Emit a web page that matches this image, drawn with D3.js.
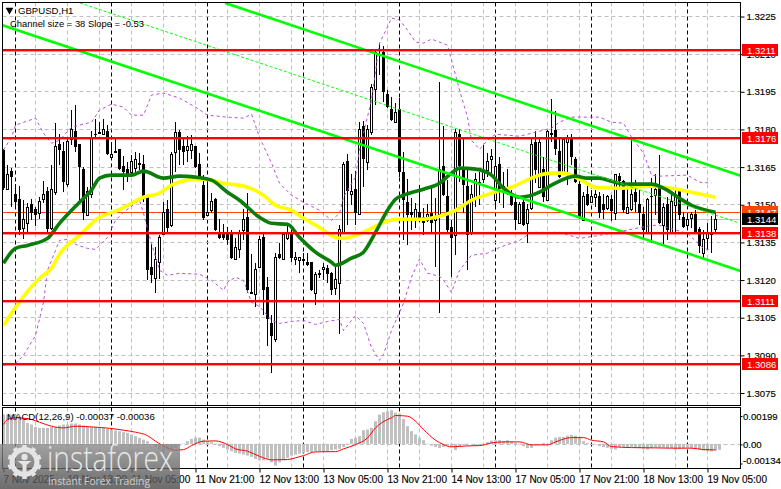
<!DOCTYPE html>
<html><head><meta charset="utf-8">
<style>html,body{margin:0;padding:0;background:#fff}svg{display:block}text{font-family:"Liberation Sans",Arial,sans-serif}</style>
<script src="https://cdn.jsdelivr.net/npm/d3@7/dist/d3.min.js"></script>
</head><body><div id="chart"></div>
<script>
const opens=[1.31716,1.31560,1.31632,1.31540,1.31520,1.31404,1.31424,1.31500,1.31480,1.31464,
1.31520,1.31552,1.31404,1.31548,1.31739,1.31712,1.31580,1.31759,1.31791,1.31739,
1.31640,1.31456,1.31540,1.31779,1.31787,1.31779,1.31791,1.31688,1.31712,1.31719,
1.31652,1.31640,1.31628,1.31644,1.31664,1.31660,1.31532,1.31249,1.31205,1.31269,
1.31380,1.31480,1.31416,1.31708,1.31787,1.31731,1.31716,1.31716,1.31731,1.31660,
1.31576,1.31456,1.31476,1.31520,1.31384,1.31384,1.31384,1.31384,1.31281,1.31320,
1.31396,1.31448,1.31149,1.31141,1.31249,1.31368,1.31169,1.31025,1.30965,1.31301,
1.31281,1.31364,1.31384,1.31281,1.31277,1.31281,1.31269,1.31269,1.31145,1.31225,
1.31241,1.31245,1.31225,1.31165,1.31185,1.31384,1.31672,1.31540,1.31560,1.31460,
1.31811,1.31668,1.31787,1.31959,1.32116,1.32107,1.31939,1.31879,1.31827,1.31879,
1.31628,1.31508,1.31468,1.31436,1.31468,1.31448,1.31436,1.31464,1.31436,1.31460,
1.31652,1.31532,1.31408,1.31376,1.31779,1.31648,1.31572,1.31384,1.31528,1.31588,
1.31600,1.31636,1.31680,1.31516,1.31660,1.31572,1.31556,1.31532,1.31508,1.31424,
1.31508,1.31424,1.31484,1.31747,1.31568,1.31640,1.31516,1.31783,1.31795,1.31712,
1.31620,1.31747,1.31763,1.31680,1.31580,1.31436,1.31540,1.31508,1.31528,1.31532,
1.31500,1.31484,1.31520,1.31464,1.31612,1.31592,1.31464,1.31480,1.31548,1.31500,
1.31460,1.31384,1.31532,1.31536,1.31568,1.31416,1.31500,1.31384,1.31496,1.31552,
1.31448,1.31416,1.31444,1.31460,1.31400,1.31305,1.31364,1.31380,1.31400];
const highs=[1.31719,1.31656,1.31644,1.31580,1.31572,1.31516,1.31504,1.31520,1.31488,1.31528,
1.31592,1.31568,1.31656,1.31823,1.31779,1.31747,1.31759,1.31875,1.31895,1.31741,
1.31648,1.31568,1.31791,1.31839,1.31827,1.31839,1.31815,1.31747,1.31759,1.31721,
1.31692,1.31668,1.31696,1.31708,1.31704,1.31696,1.31536,1.31340,1.31328,1.31376,
1.31508,1.31516,1.31708,1.31827,1.31795,1.31767,1.31771,1.31775,1.31733,1.31704,
1.31616,1.31604,1.31544,1.31524,1.31440,1.31420,1.31408,1.31396,1.31364,1.31396,
1.31480,1.31544,1.31301,1.31265,1.31372,1.31384,1.31209,1.31057,1.31305,1.31344,
1.31388,1.31424,1.31396,1.31309,1.31291,1.31305,1.31305,1.31271,1.31229,1.31237,
1.31265,1.31257,1.31229,1.31249,1.31416,1.31668,1.31700,1.31620,1.31632,1.31827,
1.31831,1.31815,1.31979,1.32118,1.32142,1.32130,1.31955,1.31927,1.31903,1.31923,
1.31708,1.31600,1.31524,1.31504,1.31576,1.31484,1.31500,1.31568,1.31524,1.31987,
1.31811,1.31596,1.31436,1.31799,1.31799,1.31767,1.31648,1.31576,1.31624,1.31628,
1.31735,1.31704,1.31719,1.31771,1.31688,1.31628,1.31640,1.31556,1.31532,1.31508,
1.31528,1.31500,1.31759,1.31791,1.31763,1.31688,1.31795,1.31919,1.31871,1.31759,
1.31761,1.31775,1.31779,1.31688,1.31600,1.31548,1.31580,1.31556,1.31556,1.31548,
1.31540,1.31536,1.31536,1.31622,1.31624,1.31596,1.31584,1.31763,1.31596,1.31556,
1.31488,1.31524,1.31604,1.31620,1.31696,1.31504,1.31528,1.31544,1.31564,1.31560,
1.31468,1.31464,1.31468,1.31476,1.31408,1.31396,1.31424,1.31452,1.31464];
const lows=[1.31556,1.31556,1.31488,1.31488,1.31376,1.31360,1.31384,1.31436,1.31412,1.31440,
1.31504,1.31384,1.31396,1.31536,1.31656,1.31548,1.31568,1.31735,1.31708,1.31516,
1.31436,1.31452,1.31524,1.31759,1.31779,1.31777,1.31696,1.31686,1.31708,1.31636,
1.31556,1.31588,1.31620,1.31628,1.31636,1.31508,1.31197,1.31185,1.31145,1.31201,
1.31376,1.31380,1.31408,1.31628,1.31656,1.31656,1.31668,1.31680,1.31646,1.31594,
1.31436,1.31454,1.31464,1.31394,1.31360,1.31356,1.31336,1.31281,1.31279,1.31285,
1.31356,1.31145,1.31145,1.31089,1.31245,1.31057,1.30937,1.30826,1.30953,1.31283,
1.31277,1.31356,1.31269,1.31257,1.31225,1.31257,1.31255,1.31155,1.31097,1.31205,
1.31197,1.31185,1.31137,1.31137,1.30985,1.31382,1.31416,1.31496,1.31416,1.31456,
1.31568,1.31636,1.31775,1.31895,1.32015,1.31907,1.31885,1.31831,1.31825,1.31608,
1.31356,1.31336,1.31396,1.31404,1.31428,1.31376,1.31428,1.31384,1.31249,1.31065,
1.31534,1.31388,1.31209,1.31297,1.31588,1.31464,1.31237,1.31376,1.31488,1.31496,
1.31584,1.31608,1.31624,1.31484,1.31504,1.31484,1.31538,1.31494,1.31396,1.31422,
1.31414,1.31344,1.31476,1.31584,1.31564,1.31508,1.31514,1.31747,1.31696,1.31606,
1.31616,1.31576,1.31656,1.31584,1.31442,1.31434,1.31494,1.31504,1.31488,1.31444,
1.31440,1.31476,1.31432,1.31436,1.31568,1.31464,1.31462,1.31472,1.31468,1.31416,
1.31356,1.31382,1.31344,1.31456,1.31422,1.31336,1.31356,1.31382,1.31388,1.31436,
1.31406,1.31408,1.31404,1.31382,1.31305,1.31281,1.31316,1.31305,1.31380];
const closes=[1.31564,1.31620,1.31608,1.31508,1.31396,1.31440,1.31488,1.31464,1.31456,1.31512,
1.31540,1.31400,1.31560,1.31731,1.31716,1.31588,1.31751,1.31799,1.31727,1.31648,
1.31464,1.31552,1.31767,1.31777,1.31787,1.31799,1.31700,1.31700,1.31712,1.31640,
1.31628,1.31616,1.31672,1.31680,1.31664,1.31520,1.31237,1.31217,1.31281,1.31368,
1.31468,1.31404,1.31700,1.31787,1.31716,1.31708,1.31731,1.31739,1.31648,1.31596,
1.31444,1.31468,1.31512,1.31396,1.31364,1.31364,1.31356,1.31285,1.31328,1.31388,
1.31440,1.31157,1.31149,1.31241,1.31360,1.31157,1.31041,1.30977,1.31289,1.31285,
1.31380,1.31384,1.31285,1.31289,1.31289,1.31281,1.31257,1.31157,1.31221,1.31225,
1.31249,1.31221,1.31157,1.31201,1.31400,1.31660,1.31552,1.31552,1.31464,1.31799,
1.31680,1.31799,1.31967,1.32107,1.32110,1.31947,1.31887,1.31835,1.31867,1.31628,
1.31516,1.31456,1.31456,1.31480,1.31436,1.31424,1.31460,1.31424,1.31448,1.31640,
1.31536,1.31396,1.31364,1.31787,1.31652,1.31576,1.31376,1.31540,1.31600,1.31588,
1.31632,1.31672,1.31692,1.31652,1.31552,1.31548,1.31540,1.31496,1.31436,1.31500,
1.31416,1.31480,1.31739,1.31636,1.31747,1.31528,1.31791,1.31783,1.31719,1.31608,
1.31759,1.31767,1.31688,1.31588,1.31444,1.31532,1.31496,1.31532,1.31540,1.31464,
1.31476,1.31532,1.31472,1.31620,1.31592,1.31476,1.31488,1.31540,1.31508,1.31464,
1.31396,1.31520,1.31530,1.31560,1.31424,1.31488,1.31396,1.31512,1.31540,1.31456,
1.31408,1.31440,1.31460,1.31384,1.31332,1.31360,1.31384,1.31388,1.31440];

const fastMaBars=[0,3,6,11,14,19,22,24,27,32,35,40,44,48,52,56,59,64,67,71,74,78,82,83,87,90,93,96,98,100,105,109,112,114,118,122,125,129,134,137,143,146,149,152,155,162,165,169,172,178];
const fastMaValues=[1.31265,1.31324,1.31336,1.31364,1.31424,1.31508,1.31556,1.31604,1.31616,1.31616,1.31632,1.31604,1.31612,1.31608,1.31596,1.31548,1.31516,1.31448,1.31424,1.31420,1.31368,1.31309,1.31269,1.31257,1.31285,1.31309,1.31388,1.31476,1.31520,1.31536,1.31560,1.31584,1.31624,1.31644,1.31640,1.31616,1.31564,1.31528,1.31548,1.31576,1.31612,1.31604,1.31604,1.31592,1.31580,1.31580,1.31564,1.31524,1.31496,1.31468];
const slowMaBars=[0,3,9,12,14,19,24,28,32,35,39,42,46,50,55,61,65,68,72,75,79,83,85,88,92,95,99,104,109,113,117,122,127,134,137,140,144,148,154,162,167,172,178];
const slowMaValues=[1.31017,1.31089,1.31205,1.31245,1.31301,1.31376,1.31448,1.31472,1.31504,1.31528,1.31544,1.31576,1.31596,1.31600,1.31584,1.31568,1.31536,1.31496,1.31476,1.31444,1.31408,1.31368,1.31364,1.31376,1.31404,1.31428,1.31440,1.31440,1.31452,1.31476,1.31516,1.31544,1.31568,1.31616,1.31624,1.31624,1.31600,1.31568,1.31564,1.31572,1.31564,1.31548,1.31528];

const upperBandBars=[0,2,3,8,10,12,14,17,22,24,27,30,32,35,37,40,44,48,51,56,60,62,64,67,69,72,75,79,82,84,85,88,89,92,94,96,97,99,101,103,105,107,111,112,114,116,117,119,121,123,129,132,137,139,142,149,152,155,157,160,162,164,171,174,177];
const upperBandValues=[1.31716,1.31767,1.31815,1.31843,1.31783,1.31743,1.31755,1.31807,1.31827,1.31875,1.31899,1.31887,1.31855,1.31855,1.31935,1.31943,1.31923,1.31887,1.31855,1.31847,1.31843,1.31859,1.31767,1.31664,1.31584,1.31536,1.31508,1.31476,1.31436,1.31464,1.31528,1.31608,1.31716,1.31915,1.32142,1.32206,1.32242,1.32234,1.32194,1.32146,1.32142,1.32158,1.32134,1.32075,1.31955,1.31847,1.31755,1.31719,1.31755,1.31779,1.31771,1.31783,1.31803,1.31827,1.31847,1.31847,1.31827,1.31823,1.31767,1.31704,1.31616,1.31612,1.31616,1.31588,1.31584];
const lowerBandBars=[0,3,5,8,10,11,13,14,16,18,21,23,26,28,30,34,35,37,39,41,44,49,52,55,56,58,60,62,64,67,69,72,75,78,81,84,85,87,88,90,92,94,95,97,100,102,104,106,109,110,112,114,117,121,124,129,132,139,144,149,153,162,164,171,175,177];
const lowerBandValues=[1.30858,1.30866,1.30898,1.30977,1.31109,1.31237,1.31316,1.31356,1.31360,1.31340,1.31324,1.31320,1.31368,1.31436,1.31468,1.31516,1.31464,1.31344,1.31237,1.31217,1.31225,1.31221,1.31197,1.31157,1.31189,1.31209,1.31197,1.31109,1.31093,1.31037,1.31025,1.31033,1.31037,1.31021,1.31033,1.31041,1.30997,1.31037,1.31057,1.31025,1.30929,1.30878,1.30902,1.30997,1.31105,1.31209,1.31281,1.31225,1.31213,1.31197,1.31149,1.31237,1.31297,1.31305,1.31328,1.31356,1.31388,1.31388,1.31364,1.31376,1.31388,1.31416,1.31416,1.31384,1.31324,1.31316];

const channelTopBars=[55.4,184.5];   const channelTopValues=[1.32302,1.31612];
const channelBottomBars=[-0.4,184.5];const channelBottomValues=[1.32214,1.31233];
const channelMidBars=[19.1,183.4];   const channelMidValues=[1.32302,1.31428];

const levelPrices=[1.32114,1.31764,1.31384,1.31114,1.30864];
const levelLabels=["1.3211","1.3176","1.3138","1.3111","1.3086"];
const priceTicks=[1.3225,1.3210,1.3195,1.3180,1.3165,1.3150,1.3135,1.3120,1.3105,1.3090,1.3075];
const bidPrice=1.31468, bidLabel="1.3147";
const lastPrice=1.31440, lastLabel="1.3144";

const timeBars=[0,16,32,48,64,80,96,112,128,144,160,176];
const timeLabels=["7 Nov 2025","10 Nov 13:00","11 Nov 05:00","11 Nov 21:00","12 Nov 13:00","13 Nov 05:00","13 Nov 21:00","14 Nov 13:00","17 Nov 05:00","17 Nov 21:00","18 Nov 13:00","19 Nov 05:00"];

const macdHist=[206,206,206,206,190,171,147,136,119,112,112,112,119,119,129,136,136,143,143,136,129,119,119,119,112,112,105,101,94,89,82,77,66,54,42,30,19,-5,-21,-40,-51,-44,-40,-28,-12,2,19,35,44,44,30,19,12,2,-16,-28,-40,-51,-63,-68,-75,-82,-91,-105,-115,-115,-105,-129,-152,-129,-115,-98,-82,-75,-68,-63,-58,-58,-51,-51,-51,-51,-44,-40,-35,-21,2,35,42,54,96,101,112,159,206,222,229,236,
218,213,175,124,89,66,42,26,2,-12,-21,-28,-21,-12,-21,-44,-16,-7,2,-2,-7,-7,-2,12,23,26,26,21,26,16,7,-5,-16,-30,-28,-9,-5,7,2,26,44,49,49,58,63,58,42,19,7,-7,-5,-16,-23,-28,-35,-40,-21,-21,-21,-21,-26,-30,-35,-40,-30,-26,-26,-26,-30,-30,-40,-35,-30,-28,-30,-30,-40,-47,-51,-54,-47,-42].map(v=>v/1e5);
const macdSignalBars=[0,1,3,7,9,12,15,18,22,27,30,33,36,38,41,43,45,47,50,53,56,58,61,64,67,71,73,75,78,83,85,88,91,93,96,97,98,101,103,105,108,110,112,116,119,122,125,129,132,136,138,142,145,147,150,152,157,163,167,172,175,178];
const macdSignal=[136,171,183,171,152,124,112,124,119,108,96,82,58,19,-28,-44,-40,-12,19,21,-5,-35,-51,-87,-112,-110,-98,-82,-56,-54,-35,-5,42,112,171,183,199,194,159,101,26,-5,-21,-14,-12,7,14,14,-7,-7,14,44,44,26,14,-19,-26,-28,-30,-30,-40,-42].map(v=>v/1e5);
const macdTicks=[0.00199,0,-0.00134];
const macdTickLabels=["0.00199","0.00","-0.00134"];

const W=781,H=489,L=2.5,R=740.5,T=2.5,B=405.5,MT=407.5,MB=468.5;
const svg=d3.select("#chart").append("svg").attr("width",W).attr("height",H).style("background","#fff");
const x=d3.scaleLinear().domain([0,178]).range([3.5,715.5]);
const y=d3.scaleLinear().domain([1.3075,1.3225]).range([392.5,16]);
const my=d3.scaleLinear().domain([-0.00134,0.00199]).range([463,415.5]);
const defs=svg.append("defs");
defs.append("clipPath").attr("id","main").append("rect").attr("x",L).attr("y",T).attr("width",R-L).attr("height",B-T);
defs.append("clipPath").attr("id","sub").append("rect").attr("x",L).attr("y",MT).attr("width",R-L).attr("height",MB-MT);
const wm=defs.append("linearGradient").attr("id","wm").attr("x1",0).attr("y1",0).attr("x2",0).attr("y2",1);
wm.append("stop").attr("offset",0).attr("stop-color","#888").attr("stop-opacity",.78);
wm.append("stop").attr("offset",1).attr("stop-color","#4c4c4c").attr("stop-opacity",.82);

const gridBars=d3.range(8,184,8), sepBars=d3.range(3,184,24);
const grid=svg.append("g");
[[T,B],[MT,MB]].forEach(([a,b])=>{
  grid.selectAll(null).data(gridBars).join("line").attr("x1",d=>x(d)).attr("x2",d=>x(d)).attr("y1",a).attr("y2",b)
    .attr("stroke","#c0c0c0").attr("stroke-dasharray","4 3");
  grid.selectAll(null).data(sepBars).join("line").attr("x1",d=>x(d)).attr("x2",d=>x(d)).attr("y1",a).attr("y2",b)
    .attr("stroke","#000").attr("stroke-dasharray","4 3");
});
grid.selectAll(null).data(priceTicks).join("line").attr("x1",L).attr("x2",R).attr("y1",d=>Math.round(y(d))+.5).attr("y2",d=>Math.round(y(d))+.5)
  .attr("stroke","#c0c0c0").attr("stroke-dasharray","4 3");
grid.append("line").attr("x1",L).attr("x2",R).attr("y1",Math.round(my(0))+.5).attr("y2",Math.round(my(0))+.5)
  .attr("stroke","#c0c0c0").attr("stroke-dasharray","4 3");

const main=svg.append("g").attr("clip-path","url(#main)");
main.append("line").attr("x1",L).attr("x2",R).attr("y1",Math.round(y(lastPrice))+.5).attr("y2",Math.round(y(lastPrice))+.5).attr("stroke","#c0c0c0");
main.append("line").attr("x1",L).attr("x2",R).attr("y1",Math.round(y(bidPrice))+.5).attr("y2",Math.round(y(bidPrice))+.5).attr("stroke","#ff4500");

const idx=d3.range(opens.length);
main.append("g").selectAll("line").data(idx).join("line")
  .attr("x1",i=>x(i)).attr("x2",i=>x(i)).attr("y1",i=>Math.round(y(highs[i]))).attr("y2",i=>Math.round(y(lows[i])))
  .attr("stroke","#000");
main.append("g").selectAll("rect").data(idx).join("rect")
  .each(function(i){
    const top=Math.round(y(Math.max(opens[i],closes[i]))), bot=Math.round(y(Math.min(opens[i],closes[i])));
    const up=closes[i]>=opens[i], s=d3.select(this);
    if(up) s.attr("x",x(i)-1).attr("y",top+.5).attr("width",2).attr("height",Math.max(1,bot-top)).attr("fill","#fff").attr("stroke","#000");
    else s.attr("x",x(i)-1.5).attr("y",top).attr("width",3).attr("height",Math.max(1,bot-top)).attr("fill","#000");
  });

const pathOf=(bars,vals,sc,curve)=>d3.line().x(i=>x(bars[i])).y(i=>sc(vals[i])).curve(curve)(d3.range(bars.length));
main.append("path").attr("d",pathOf(upperBandBars,upperBandValues,y,d3.curveLinear)).attr("fill","none").attr("stroke","#b44fd6").attr("stroke-dasharray","3 3");
main.append("path").attr("d",pathOf(lowerBandBars,lowerBandValues,y,d3.curveLinear)).attr("fill","none").attr("stroke","#b44fd6").attr("stroke-dasharray","3 3");
main.append("path").attr("d",pathOf(slowMaBars,slowMaValues,y,d3.curveMonotoneX)).attr("fill","none").attr("stroke","#ffff00").attr("stroke-width",3.6);
main.append("path").attr("d",pathOf(fastMaBars,fastMaValues,y,d3.curveMonotoneX)).attr("fill","none").attr("stroke","#0b7d0b").attr("stroke-width",3.6);
main.append("path").attr("d",pathOf(channelTopBars,channelTopValues,y,d3.curveLinear)).attr("fill","none").attr("stroke","#00ff00").attr("stroke-width",2.6);
main.append("path").attr("d",pathOf(channelBottomBars,channelBottomValues,y,d3.curveLinear)).attr("fill","none").attr("stroke","#00ff00").attr("stroke-width",2.6);
main.append("path").attr("d",pathOf(channelMidBars,channelMidValues,y,d3.curveLinear)).attr("fill","none").attr("stroke","#00ff00").attr("stroke-dasharray","3 2");
main.selectAll(null).data(levelPrices).join("rect").attr("x",L).attr("width",R-L).attr("y",d=>Math.round(y(d))-1).attr("height",2.4).attr("fill","#ff0000");

const sub=svg.append("g").attr("clip-path","url(#sub)");
sub.append("g").selectAll("rect").data(macdHist).join("rect")
  .attr("x",(d,i)=>x(i)-1.5).attr("width",3)
  .attr("y",d=>Math.min(my(d),my(0))).attr("height",d=>Math.abs(my(d)-my(0))).attr("fill","#c0c0c0");
sub.append("path").attr("d",pathOf(macdSignalBars,macdSignal,my,d3.curveMonotoneX)).attr("fill","none").attr("stroke","#ff0000");

svg.append("rect").attr("x",L).attr("y",T).attr("width",R-L).attr("height",B-T).attr("fill","none").attr("stroke","#000");
svg.append("rect").attr("x",L).attr("y",MT).attr("width",R-L).attr("height",MB-MT).attr("fill","none").attr("stroke","#000");

const fs=9.6;
const styleAxis=(g)=>{g.select(".domain").remove();g.selectAll("line").attr("stroke","#000");g.selectAll("text").attr("fill","#000").attr("stroke","#000").attr("stroke-width",.15).style("font-size",fs+"px").style("font-family",'"Liberation Sans",Arial,sans-serif');};
const axY=d3.axisRight(y).tickValues(priceTicks).tickFormat(d3.format(".4f")).tickSize(4).tickPadding(2);
svg.append("g").attr("transform",`translate(${R},0.5)`).call(axY).call(styleAxis);
const axM=d3.axisRight(my).tickValues(macdTicks).tickFormat((d,i)=>macdTickLabels[i]).tickSize(2).tickPadding(0.5);
const gM=svg.append("g").attr("transform",`translate(${R},0.5)`).call(axM).call(styleAxis);
gM.selectAll("text").attr("dy",(d)=>d<0?"-0.05em":"0.32em");
const axX=d3.axisBottom(x).tickValues(timeBars).tickFormat((d,i)=>timeLabels[i]).tickSize(4).tickPadding(3);
const gX=svg.append("g").attr("transform",`translate(0,${MB})`).call(axX).call(styleAxis);
gX.selectAll("text").attr("text-anchor","start").style("font-size","10px").attr("dx",-0.5);

const tag=(price,label,fill,color)=>{
  const yy=Math.round(y(price));
  svg.append("rect").attr("x",742).attr("y",yy-6).attr("width",36).attr("height",12).attr("fill",fill);
  svg.append("text").attr("x",747).attr("y",yy+3.5).attr("fill",color).style("font-size",fs+"px").text(label);
};
tag(bidPrice,bidLabel,"#ff4500","#fff");
tag(lastPrice,lastLabel,"#000","#fff");
levelPrices.forEach((p,i)=>tag(p,levelLabels[i],"#ff0000","#fff"));

svg.append("path").attr("d",d3.symbol(d3.symbolTriangle,26)()).attr("transform","translate(9.5,10) rotate(180)").attr("fill","#000");
svg.append("text").attr("x",18).attr("y",14).attr("fill","#000").style("font-size","9.6px").text("GBPUSD,H1");
svg.append("text").attr("x",10).attr("y",27).attr("fill","#000").style("font-size","9.4px").text("Channel size = 38 Slope = -0.53");
svg.append("text").attr("x",7).attr("y",420).attr("fill","#000").style("font-size","9.6px").text("MACD(12,26,9) -0.00037 -0.00036");

const w=svg.append("g");
w.append("rect").attr("x",0).attr("y",444).attr("width",180).attr("height",45).attr("fill","url(#wm)");
const cx=24.5,cy=462,white="#e4e4e4";
w.append("circle").attr("cx",cx).attr("cy",cy).attr("r",12.5).attr("fill","none").attr("stroke",white).attr("stroke-width",5);
d3.range(10).forEach(k=>{
  const a=k*Math.PI/5+Math.PI/10;
  w.append("line").attr("x1",cx+13*Math.cos(a)).attr("y1",cy+13*Math.sin(a)).attr("x2",cx+17*Math.cos(a)).attr("y2",cy+17*Math.sin(a))
    .attr("stroke",white).attr("stroke-width",4.5);
});
w.append("circle").attr("cx",cx).attr("cy",cy-5).attr("r",3.2).attr("fill",white);
w.append("path").attr("d",`M${cx-7} ${cy-1}L${cx+7} ${cy-1}L${cx+2} ${cy+3}L${cx+2} ${cy+13}L${cx-2} ${cy+13}L${cx-2} ${cy+3}Z`).attr("fill",white);
w.append("text").attr("x",47).attr("y",471).attr("fill","#e8e8e8").attr("textLength",126).attr("lengthAdjust","spacingAndGlyphs")
  .style("font-family",'"Open Sans",sans-serif').style("font-weight",300).style("font-size","34px").text("instaforex");
w.append("text").attr("x",48).attr("y",485).attr("fill","#cfcfcf").attr("textLength",102).attr("lengthAdjust","spacingAndGlyphs")
  .style("font-family",'"Open Sans",sans-serif').style("font-size","11.5px").text("Instant Forex Trading");
</script></body></html>
